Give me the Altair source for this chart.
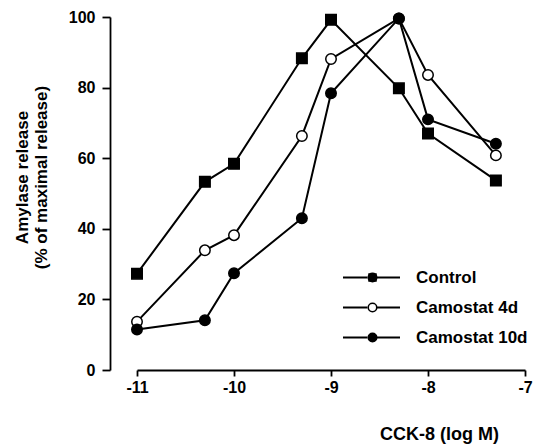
import altair as alt
import pandas as pd

dose = [-11, -10.3, -10, -9.3, -9, -8.3, -8, -7.3]
control = [27.3, 53.3, 58.4, 88.3, 99.2, 79.8, 67.0, 53.7]
camostat_4d = [13.7, 33.9, 38.2, 66.3, 88.1, 99.6, 83.6, 60.8]
camostat_10d = [11.5, 14.1, 27.4, 43.0, 78.4, 99.6, 71.0, 64.1]
series_names = ["Control", "Camostat 4d", "Camostat 10d"]
x_ticks = [-11, -10, -9, -8, -7]
y_ticks = [0, 20, 40, 60, 80, 100]

rows = []
for name, vals in zip(series_names, [control, camostat_4d, camostat_10d]):
    for d, v in zip(dose, vals):
        rows.append({"dose": d, "release": v, "series": name, "marker": name})
df = pd.DataFrame(rows)

FONT = "Liberation Sans"

x = alt.X(
    "dose:Q",
    scale=alt.Scale(domain=[-11, -7], nice=False, zero=False),
    axis=alt.Axis(
        values=x_ticks, title="CCK-8 (log M)", titleX=302, titleY=64,
        titleAlign="center", titleBaseline="middle", titleFontSize=18,
        tickSize=6, labelPadding=3, labelFlush=False,
        labelExpr="replace(datum.label, '\u2212', '-')",
    ),
)
y = alt.Y(
    "release:Q",
    scale=alt.Scale(domain=[0, 100], nice=False),
    axis=alt.Axis(
        values=y_ticks, offset=27,
        title=["Amylase release", "(% of maximal release)"],
        titleX=-87.5, titleY=160, titleAlign="center", titleBaseline="middle",
        titleLineHeight=19, tickSize=8, labelPadding=7, labelFlush=False,
    ),
)

line_legend = alt.Legend(
    title=None, orient="none", legendX=226, legendY=252,
    symbolType="M-5.7,0H-0.8M0.8,0H5.7", symbolSize=100, symbolStrokeWidth=2,
    labelFont=FONT, labelFontSize=17, labelFontWeight="bold", labelColor="black",
    labelOffset=36, rowPadding=12,
)
marker_legend = alt.Legend(
    title=None, orient="none", legendX=227, legendY=252,
    symbolSize=72, symbolStrokeWidth=1.5, symbolStrokeColor="black",
    labelFont=FONT, labelFontSize=17, labelFontWeight="bold",
    labelExpr="''", rowPadding=12,
)

lines = alt.Chart(df).mark_line(strokeWidth=2).encode(
    x=x, y=y,
    color=alt.Color("series:N", sort=series_names,
                    scale=alt.Scale(range=["black", "black", "black"]),
                    legend=line_legend),
)
points = alt.Chart(df).mark_point(filled=True, size=110, stroke="black",
                                  strokeWidth=1.5, opacity=1).encode(
    x=x, y=y,
    shape=alt.Shape("marker:N", sort=series_names,
                    scale=alt.Scale(range=["square", "circle", "circle"]),
                    legend=marker_legend),
    fill=alt.Fill("marker:N", sort=series_names,
                  scale=alt.Scale(range=["black", "white", "black"]),
                  legend=marker_legend),
)

chart = alt.layer(lines, points).properties(
    width=388, height=353,
    padding={"left": 129, "top": 9, "right": 8, "bottom": 75},
    autosize=alt.AutoSizeParams(type="none"),
).configure_view(stroke=None).configure_axis(
    grid=False, domainColor="black", domainWidth=1.8, tickColor="black",
    tickWidth=1.8, labelColor="black", labelFont=FONT, labelFontSize=16,
    labelFontWeight="bold", titleColor="black", titleFont=FONT,
    titleFontSize=17, titleFontWeight="bold",
)

chart.save("out.html", embed_options={"renderer": "svg", "actions": False})
